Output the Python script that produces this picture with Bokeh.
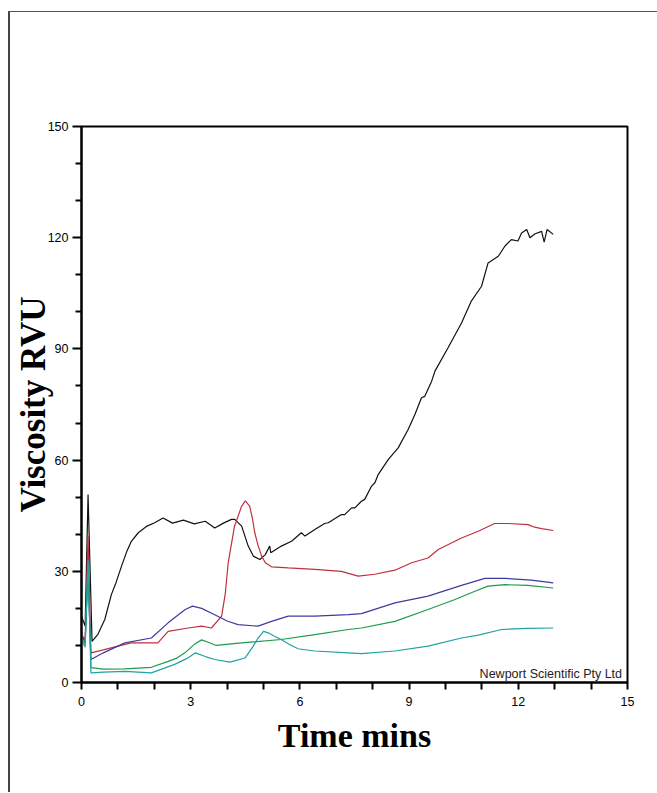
from bokeh.plotting import figure
from bokeh.models import Label, FixedTicker
from bokeh.embed import file_html
from bokeh.resources import INLINE

# ---- data (time in minutes, viscosity in RVU) ----
black_t = [0.0, 0.1, 0.18, 0.29, 0.45, 0.64, 0.82, 0.95, 1.1, 1.25, 1.37, 1.56, 1.8, 2.01, 2.24, 2.5, 2.8, 3.1, 3.4, 3.66, 3.9, 4.12, 4.21,
           4.4, 4.58, 4.72, 4.9, 5.05, 5.17, 5.2, 5.49, 5.77, 6.04, 6.14, 6.41, 6.68, 6.78, 7.14, 7.23, 7.42, 7.51,
           7.69, 7.78, 7.97, 8.06, 8.15, 8.43, 8.7, 8.97, 9.16, 9.34, 9.43, 9.62, 9.71, 10.07, 10.44, 10.71,
           10.99, 11.17, 11.45, 11.63, 11.81, 11.99, 12.09, 12.23, 12.32, 12.45, 12.64, 12.71, 12.79, 12.96]
black_v = [17.9, 15.2, 50.7, 11.1, 13.0, 17.0, 23.7, 27.0, 31.4, 35.5, 38.1, 40.4, 42.2, 43.1, 44.4, 43.0, 43.8, 42.8, 43.5, 41.7, 43.0, 44.0, 44.0,
           42.2, 36.8, 34.1, 33.2, 34.5, 36.8, 35.0, 36.8, 38.1, 40.4, 39.5, 41.3, 42.9, 43.1, 45.3, 45.3, 47.1, 47.1,
           48.9, 49.4, 53.0, 53.9, 56.1, 60.2, 63.3, 68.2, 72.3, 76.8, 77.2, 81.3, 84.0, 90.3, 97.0, 102.9,
           106.9, 113.2, 115.0, 117.7, 119.5, 119.1, 121.3, 122.2, 120.0, 121.0, 121.7, 118.8, 122.2, 120.9]

red_t = [0.0, 0.1, 0.18, 0.26, 0.6, 1.0, 1.37, 2.1, 2.38, 2.93, 3.3, 3.57, 3.85, 3.95, 4.03, 4.2, 4.4, 4.5, 4.62, 4.7, 4.76, 4.85, 4.95,
         5.05, 5.22, 5.68, 6.41, 7.14, 7.6, 8.06, 8.61, 9.07, 9.52, 9.8, 10.44, 10.9, 11.35, 11.72, 12.27, 12.45, 12.64, 12.96]
red_v = [12.9, 11.5, 39.5, 8.0, 8.8, 9.8, 10.7, 10.7, 13.8, 14.7, 15.2, 14.7, 17.9, 24.0, 32.3, 42.0, 47.6, 49.0, 47.6, 44.0, 40.4, 37.0, 34.1,
         32.3, 31.2, 30.9, 30.5, 30.0, 28.7, 29.2, 30.3, 32.3, 33.6, 35.9, 39.0, 40.8, 42.9, 42.9, 42.6, 41.9, 41.5, 41.0]

blue_t = [0.0, 0.1, 0.18, 0.26, 0.6, 1.19, 1.92, 2.38, 2.6, 2.85, 3.05, 3.3, 3.66, 4.0, 4.3, 4.85, 5.22, 5.68, 6.41, 7.33, 7.69, 8.61,
          9.52, 10.44, 11.08, 11.63, 12.36, 12.96]
blue_v = [12.5, 11.0, 30.0, 6.2, 8.0, 10.7, 12.0, 16.1, 17.8, 19.7, 20.6, 20.0, 18.3, 16.6, 15.6, 15.2, 16.5, 17.9, 17.9, 18.3, 18.6, 21.5,
          23.3, 26.2, 28.1, 28.1, 27.6, 26.9]

green_t = [0.0, 0.1, 0.18, 0.26, 0.6, 1.19, 1.92, 2.38, 2.6, 2.84, 3.1, 3.3, 3.5, 3.7, 4.4, 5.49, 6.41, 7.33, 7.69, 8.61, 9.52,
           10.26, 10.81, 11.17, 11.63, 12.27, 12.96]
green_v = [11.8, 10.5, 32.0, 4.0, 3.6, 3.7, 4.1, 5.7, 6.5, 8.0, 10.3, 11.5, 10.8, 10.0, 10.7, 11.6, 12.9, 14.3, 14.7, 16.5, 19.7,
           22.4, 24.6, 26.0, 26.4, 26.2, 25.5]

teal_t = [0.0, 0.1, 0.18, 0.26, 0.6, 1.19, 1.92, 2.56, 2.9, 3.13, 3.4, 3.66, 4.08, 4.49, 4.72, 4.85, 5.0, 5.13, 5.3, 5.49, 5.7, 5.95, 6.41,
          7.33, 7.69, 8.61, 9.52, 10.44, 10.9, 11.54, 12.27, 12.96]
teal_v = [11.6, 9.5, 33.0, 2.6, 2.8, 3.0, 2.6, 4.9, 6.5, 8.0, 7.0, 6.2, 5.5, 6.6, 9.8, 12.0, 13.8, 13.4, 12.5, 11.6, 10.3, 9.1, 8.5,
          8.0, 7.8, 8.5, 9.8, 12.0, 12.8, 14.3, 14.6, 14.7]

x_major = [0, 3, 6, 9, 12, 15]
x_minor = [1, 2, 4, 5, 7, 8, 10, 11, 13, 14]
y_major = [0, 30, 60, 90, 120, 150]
y_minor = [10, 20, 40, 50, 70, 80, 100, 110, 130, 140]

series = [
    (black_t, black_v, "#111111"),
    (red_t, red_v, "#c0303c"),
    (blue_t, blue_v, "#3c3ca0"),
    (green_t, green_v, "#1e9a50"),
    (teal_t, teal_v, "#1fa3a3"),
]

p = figure(frame_width=546, frame_height=556, x_range=(0, 15), y_range=(0, 150),
           output_backend="svg", toolbar_location=None,
           min_border_left=70, min_border_right=30, min_border_top=114, min_border_bottom=110)
p.styles = {"border-left": "2px solid #444444", "border-top": "1px solid #555555",
            "margin-top": "11px", "margin-left": "8px"}

p.xgrid.visible = False
p.ygrid.visible = False
p.outline_line_color = "black"
p.outline_line_width = 2
p.background_fill_color = "white"
p.border_fill_color = "white"

for ax in (p.xaxis[0], p.yaxis[0]):
    ax.axis_line_width = 2
    ax.axis_line_color = "black"
    ax.major_tick_line_width = 2
    ax.minor_tick_line_width = 2
    ax.major_tick_in = 0
    ax.minor_tick_in = 0
    ax.major_label_text_font = "Liberation Sans"
    ax.major_label_text_font_size = "12.5px"
    ax.major_label_text_color = "black"
    ax.axis_label_text_font = "Liberation Serif"
    ax.axis_label_text_font_style = "bold"
    ax.axis_label_text_color = "black"

p.xaxis.ticker = FixedTicker(ticks=x_major, minor_ticks=x_minor)
p.yaxis.ticker = FixedTicker(ticks=y_major, minor_ticks=y_minor)
p.xaxis.major_tick_out = 7
p.xaxis.minor_tick_out = 7
p.yaxis.major_tick_out = 9
p.yaxis.minor_tick_out = 6
p.xaxis.major_label_standoff = 7
p.yaxis.major_label_standoff = 4

p.xaxis.axis_label = "Time mins"
p.xaxis.axis_label_text_font_size = "34px"
p.xaxis.axis_label_standoff = 8
p.yaxis.axis_label = "Viscosity RVU"
p.yaxis.axis_label_text_font_size = "35px"
p.yaxis.axis_label_standoff = -8

for t, v, c in series:
    p.line(t, v, line_color=c, line_width=1.2)

p.add_layout(Label(x=14.85, y=0.4, text="Newport Scientific Pty Ltd", text_align="right",
                   text_baseline="bottom", text_font="Liberation Sans", text_font_size="12.5px",
                   text_color="#222222"))

open("out.html", "w").write(file_html(p, INLINE))
